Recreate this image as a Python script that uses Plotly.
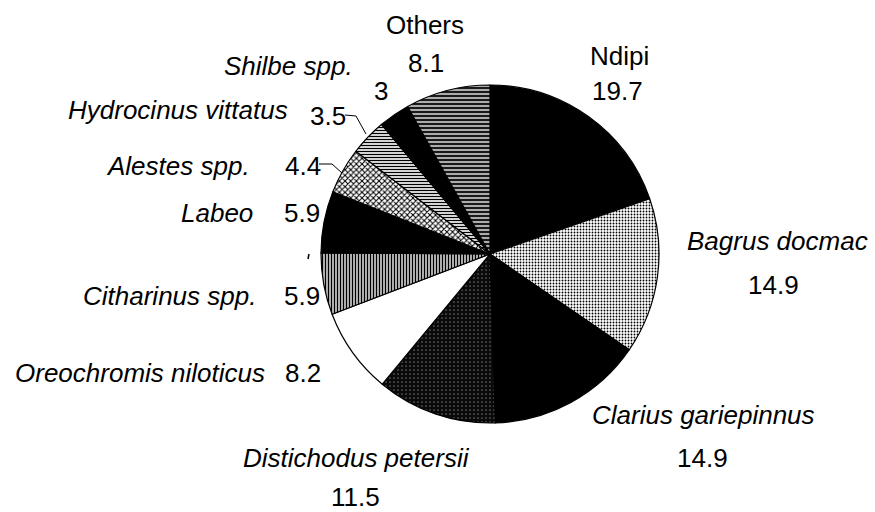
import plotly.graph_objects as go

# ---- data ----
species = ["Ndipi", "Bagrus docmac", "Clarius gariepinnus", "Distichodus petersii",
           "Oreochromis niloticus", "Citharinus spp.", "Labeo", "Alestes spp.",
           "Hydrocinus vittatus", "Shilbe spp.", "Others"]
percent = [19.7, 14.9, 14.9, 11.5, 8.2, 5.9, 5.9, 4.4, 3.5, 3, 8.1]
italic_name = [False, True, True, True, True, True, True, True, True, True, False]

# ---- slice styles (fill, pattern) ----
fill_colors = ["#000000", "#ffffff", "#000000", "#0a0a0a", "#ffffff", "#ffffff",
               "#000000", "#ffffff", "#ffffff", "#000000", "#1a1a1a"]
pat_shapes = ["", ".", "", ".", "", "|", "", "x", "-", "", "-"]
pat_fg = ["#000000", "#000000", "#000000", "#666666", "#000000", "#000000",
          "#000000", "#000000", "#000000", "#000000", "#ffffff"]
pat_size = [4, 3, 4, 4, 4, 3, 4, 4, 3, 4, 4]
pat_solid = [0.3, 0.3, 0.3, 0.15, 0.3, 0.55, 0.3, 0.45, 0.45, 0.3, 0.32]

W, H = 875, 512
cx, cy, r = 490, 254, 169

fig = go.Figure(go.Pie(
    labels=species, values=percent, sort=False, direction="clockwise", rotation=0,
    textinfo="none", hoverinfo="label+value",
    marker=dict(colors=fill_colors,
                line=dict(color="#000000", width=1.2),
                pattern=dict(shape=pat_shapes, fgcolor=pat_fg, bgcolor=fill_colors,
                             size=pat_size, solidity=pat_solid, fillmode="replace")),
    domain=dict(x=[(cx - r) / W, (cx + r) / W], y=[1 - (cy + r) / H, 1 - (cy - r) / H]),
    showlegend=False,
))

# ---- label placement (pixel positions of text centres) ----
dy = -2
name_pos = [(588, 58, "left"), (870, 243, "right"), (590, 417, "left"), (356, 460, "center"),
            (267, 375, "right"), (258, 298, "right"), (255, 215, "right"), (252, 168, "right"),
            (290, 112, "right"), (355, 68, "right"), (425, 27, "center")]
value_pos = [(617, 93, "center"), (773, 287, "center"), (702, 460, "center"), (355, 499, "center"),
             (283, 375, "left"), (282, 298, "left"), (282, 215, "left"), (283, 168, "left"),
             (308, 118, "left"), (381, 93, "center"), (426, 65, "center")]

font = dict(family="Liberation Sans, Arial, sans-serif", size=26, color="#000000")
annots = []
for name, it, (x, y, a) in zip(species, italic_name, name_pos):
    annots.append(dict(x=x / W, y=1 - (y + dy) / H, xref="paper", yref="paper", xanchor=a,
                       yanchor="middle", showarrow=False, font=font,
                       text=f"<i>{name}</i>" if it else name))
for v, (x, y, a) in zip(percent, value_pos):
    annots.append(dict(x=x / W, y=1 - (y + dy) / H, xref="paper", yref="paper", xanchor=a,
                       yanchor="middle", showarrow=False, font=font, text=f"{v:g}"))

def px_path(points):
    return "M " + " L ".join(f"{x / W},{1 - y / H}" for x, y in points)

shapes = [
    dict(type="path", xref="paper", yref="paper", path=px_path([(345, 115), (356, 116), (366, 134)]),
         line=dict(color="#000000", width=1)),
    dict(type="path", xref="paper", yref="paper", path=px_path([(319, 164), (332, 164), (342, 173)]),
         line=dict(color="#000000", width=1)),
    dict(type="path", xref="paper", yref="paper", path=px_path([(309, 254), (308, 259)]),
         line=dict(color="#000000", width=1.5)),
]

fig.update_layout(width=W, height=H, margin=dict(l=0, r=0, t=0, b=0),
                  paper_bgcolor="#ffffff", plot_bgcolor="#ffffff",
                  annotations=annots, shapes=shapes)

fig.write_html("out.html",
               config={"displayModeBar": False},
               post_script="document.body.style.margin='0';document.body.style.overflow='hidden';")
